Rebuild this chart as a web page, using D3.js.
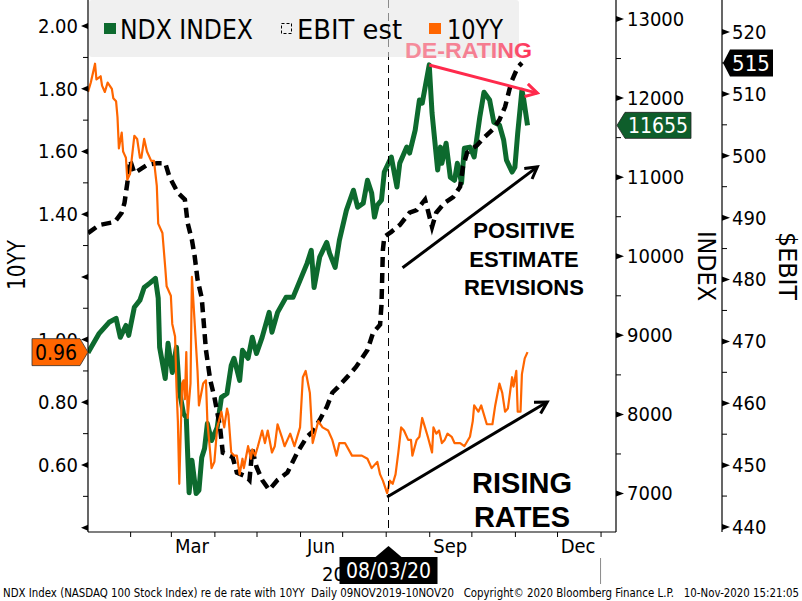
<!DOCTYPE html>
<html><head><meta charset="utf-8">
<script src="https://cdn.jsdelivr.net/npm/d3@7"></script>
<style>body{margin:0;background:#fff}svg{display:block}</style>
</head><body><svg id="c" width="802" height="601"></svg>
<script>
// ---------------- data ----------------
const ndxDates = ["2020-01-02","2020-01-10","2020-01-17","2020-01-22","2020-01-25","2020-01-29","2020-01-31","2020-02-04","2020-02-08","2020-02-11","2020-02-15","2020-02-19","2020-02-21","2020-02-22","2020-02-26","2020-02-28","2020-03-02","2020-03-05","2020-03-07","2020-03-10","2020-03-12","2020-03-14","2020-03-16","2020-03-19","2020-03-21","2020-03-23","2020-03-25","2020-03-27","2020-03-30","2020-04-03","2020-04-06","2020-04-10","2020-04-13","2020-04-15","2020-04-19","2020-04-21","2020-04-25","2020-04-28","2020-05-01","2020-05-05","2020-05-10","2020-05-12","2020-05-16","2020-05-22","2020-05-27","2020-06-01","2020-06-06","2020-06-09","2020-06-11","2020-06-15","2020-06-20","2020-06-22","2020-06-26","2020-06-29","2020-07-04","2020-07-09","2020-07-12","2020-07-16","2020-07-19","2020-07-22","2020-07-24","2020-07-26","2020-07-29","2020-07-31","2020-08-05","2020-08-09","2020-08-11","2020-08-16","2020-08-18","2020-08-22","2020-08-25","2020-08-27","2020-09-01","2020-09-03","2020-09-07","2020-09-09","2020-09-10","2020-09-13","2020-09-16","2020-09-19","2020-09-21","2020-09-24","2020-09-26","2020-09-30","2020-10-03","2020-10-07","2020-10-10","2020-10-14","2020-10-17","2020-10-21","2020-10-24","2020-10-26","2020-10-30","2020-11-01","2020-11-03","2020-11-06","2020-11-07","2020-11-10"];
const ndxValues = [8780,9025,9165,9215,8975,9125,9000,9355,9445,9605,9660,9720,9470,8850,8455,8900,8530,8850,8305,8010,7960,7010,7420,7000,7040,7455,7570,7885,7670,7835,8215,8265,8620,8710,8430,8810,8710,8975,8770,8975,9290,9040,9290,9480,9480,9695,9910,10075,9605,9990,10175,10040,9860,10200,10580,10835,10620,10670,10960,10800,10495,10645,10710,11065,11255,10875,11175,11380,11305,11595,11975,11935,12420,11810,11090,11380,11175,11430,11000,10960,11175,10925,11365,11380,11255,11760,12075,11975,11695,11660,11470,11215,11065,11125,11555,12100,12015,11655];

const ebitDates = ["2020-01-02","2020-01-10","2020-01-21","2020-01-26","2020-01-28","2020-01-30","2020-02-01","2020-02-04","2020-02-13","2020-02-20","2020-02-26","2020-02-29","2020-03-06","2020-03-11","2020-03-13","2020-03-16","2020-03-18","2020-03-20","2020-03-23","2020-03-26","2020-03-29","2020-04-01","2020-04-05","2020-04-07","2020-04-14","2020-04-17","2020-04-24","2020-04-26","2020-04-28","2020-05-01","2020-05-05","2020-05-10","2020-05-16","2020-05-23","2020-05-30","2020-06-06","2020-06-10","2020-06-15","2020-06-20","2020-06-24","2020-06-28","2020-07-04","2020-07-11","2020-07-19","2020-07-23","2020-07-28","2020-07-29","2020-07-30","2020-07-31","2020-08-05","2020-08-11","2020-08-18","2020-08-23","2020-08-29","2020-08-31","2020-09-03","2020-09-06","2020-09-12","2020-09-18","2020-09-23","2020-09-25","2020-09-28","2020-10-05","2020-10-10","2020-10-16","2020-10-21","2020-10-25","2020-10-28","2020-10-30","2020-11-03","2020-11-06"];
const ebitValues = [487.5,488.8,489.3,490.8,492.4,495.6,499.3,497.2,498.5,498.8,498.8,496.6,494.0,492.9,489.1,486.4,483.7,480.0,477.0,468.6,463.8,461.0,456.2,452.0,451.3,448.8,448.1,447.6,452.5,449.7,447.6,446.0,447.6,448.8,452.0,454.6,455.4,457.3,459.4,461.7,462.6,464.1,465.9,468.6,471.4,472.7,475.9,484.8,486.9,487.7,488.8,490.8,491.2,492.9,491.2,488.5,490.8,492.4,493.3,495.0,498.2,500.5,501.7,502.9,504.2,505.8,507.9,510.6,512.2,514.3,515.0];

const yldDates = ["2020-01-02","2020-01-04","2020-01-07","2020-01-08","2020-01-11","2020-01-12","2020-01-14","2020-01-16","2020-01-19","2020-01-20","2020-01-22","2020-01-23","2020-01-24","2020-01-26","2020-01-27","2020-01-28","2020-01-29","2020-01-30","2020-02-01","2020-02-03","2020-02-04","2020-02-06","2020-02-08","2020-02-09","2020-02-11","2020-02-13","2020-02-16","2020-02-18","2020-02-20","2020-02-21","2020-02-24","2020-02-26","2020-02-27","2020-03-01","2020-03-02","2020-03-04","2020-03-05","2020-03-06","2020-03-07","2020-03-09","2020-03-10","2020-03-11","2020-03-12","2020-03-13","2020-03-15","2020-03-16","2020-03-20","2020-03-21","2020-03-24","2020-03-26","2020-03-27","2020-03-30","2020-04-01","2020-04-03","2020-04-06","2020-04-08","2020-04-10","2020-04-11","2020-04-13","2020-04-15","2020-04-17","2020-04-19","2020-04-21","2020-04-22","2020-04-25","2020-04-27","2020-04-28","2020-04-30","2020-05-02","2020-05-05","2020-05-07","2020-05-09","2020-05-12","2020-05-14","2020-05-16","2020-05-19","2020-05-21","2020-05-25","2020-05-28","2020-06-01","2020-06-03","2020-06-05","2020-06-08","2020-06-10","2020-06-14","2020-06-17","2020-06-21","2020-06-24","2020-06-27","2020-06-29","2020-07-03","2020-07-08","2020-07-11","2020-07-15","2020-07-19","2020-07-22","2020-07-26","2020-07-28","2020-07-30","2020-08-02","2020-08-04","2020-08-06","2020-08-08","2020-08-10","2020-08-12","2020-08-14","2020-08-17","2020-08-19","2020-08-20","2020-08-23","2020-08-25","2020-08-27","2020-08-29","2020-08-31","2020-09-03","2020-09-04","2020-09-06","2020-09-08","2020-09-10","2020-09-12","2020-09-14","2020-09-17","2020-09-19","2020-09-23","2020-09-26","2020-09-30","2020-10-02","2020-10-03","2020-10-06","2020-10-08","2020-10-12","2020-10-16","2020-10-18","2020-10-21","2020-10-23","2020-10-25","2020-10-27","2020-10-30","2020-10-31","2020-11-02","2020-11-03","2020-11-05","2020-11-06","2020-11-08","2020-11-10"];
const yldValues = [1.79,1.82,1.88,1.83,1.84,1.81,1.79,1.82,1.80,1.77,1.76,1.71,1.61,1.66,1.60,1.59,1.58,1.51,1.53,1.61,1.65,1.64,1.58,1.58,1.64,1.60,1.57,1.57,1.49,1.37,1.34,1.23,1.17,1.14,1.05,1.01,0.85,0.74,0.54,0.86,0.87,0.81,0.96,0.75,0.86,1.20,0.90,0.79,0.86,0.87,0.74,0.59,0.61,0.72,0.77,0.72,0.78,0.76,0.64,0.63,0.63,0.57,0.62,0.59,0.66,0.62,0.65,0.63,0.66,0.71,0.67,0.71,0.64,0.66,0.73,0.69,0.66,0.70,0.66,0.72,0.88,0.90,0.83,0.67,0.74,0.72,0.71,0.68,0.63,0.67,0.67,0.63,0.63,0.63,0.62,0.59,0.61,0.57,0.55,0.51,0.55,0.54,0.57,0.64,0.72,0.71,0.68,0.68,0.63,0.68,0.69,0.75,0.72,0.69,0.64,0.72,0.70,0.71,0.67,0.68,0.70,0.69,0.67,0.67,0.66,0.69,0.74,0.79,0.77,0.79,0.73,0.73,0.79,0.86,0.83,0.77,0.78,0.88,0.85,0.90,0.77,0.77,0.89,0.94,0.96];

const leftTicks = [0.4,0.6,0.8,1.0,1.2,1.4,1.6,1.8,2.0];
const leftTickLabels = ["","0.60","0.80","1.00","","1.40","1.60","1.80","2.00"];
const leftMinor = [0.5,0.7,0.9,1.1,1.3,1.5,1.7,1.9];
const ndxTicks = [7000,8000,9000,10000,11000,12000,13000];
const ndxTickLabels = ["7000","8000","9000","10000","11000","12000","13000"];
const ndxMinor = [7500,8500,9500,10500,11500,12500];
const ebitTicks = [440,450,460,470,480,490,500,510,520];
const ebitTickLabels = ["440","450","460","470","480","490","500","510","520"];
const ebitMinor = [445,455,465,475,485,495,505,515];
const monthLabels = ["Mar","Jun","Sep","Dec"];
const monthLabelDates = ["2020-03-16","2020-06-16","2020-09-16","2020-12-16"];
const yearLabel = "2020", yearLabelDate = "2020-07-03";
const markerDate = "2020-08-03", markerLabel = "08/03/20";
const yearEndDate = "2021-01-01";
const seriesNames = ["NDX INDEX","EBIT est","10YY"];
const footer = "NDX Index (NASDAQ 100 Stock Index) re de rate with 10YY  Daily 09NOV2019-10NOV20   Copyright\u00A9 2020 Bloomberg Finance L.P.   10-Nov-2020 15:21:05";
// annotation arrows in data coordinates: [date, value] on given axis
const arrows = [
  {axis:"ndx", from:["2020-09-01",12418], to:["2020-11-17",12063], color:"#ff2a4c"},
  {axis:"ebit", from:["2020-08-13",481.9], to:["2020-11-17",498.2], color:"#000"},
  {axis:"yld", from:["2020-08-02",0.498], to:["2020-11-24",0.801], color:"#000"}
];

// ---------------- chart ----------------
const FONT = '"DejaVu Sans Condensed","DejaVu Sans",sans-serif';
const BOLD = '"Liberation Sans",Arial,sans-serif';
const GREEN = "#0d6a2e", ORANGE = "#ff6600";
const PL=88, PR=616, PT=0, PB=532, EBX=722;
const parse = d3.utcParse("%Y-%m-%d");

const x = d3.scaleUtc().domain([parse("2020-01-02"), parse("2021-01-12")]).range([PL, PR]);
const yL = d3.scaleLinear().domain([0.4, 2.0]).range([527.7, 26.1]);
const yN = d3.scaleLinear().domain([7000, 13000]).range([493.5, 19]);
const yE = d3.scaleLinear().domain([440, 520]).range([527, 32]);
const scaleOf = {ndx:yN, ebit:yE, yld:yL};

const ndx = ndxDates.map((d,i)=>({date:parse(d), v:ndxValues[i]}));
const ebit = ebitDates.map((d,i)=>({date:parse(d), v:ebitValues[i]}));
const yld = yldDates.map((d,i)=>({date:parse(d), v:yldValues[i]}));

const svg = d3.select("#c");
const defs = svg.append("defs");
defs.append("clipPath").attr("id","plot").append("rect")
  .attr("x",PL).attr("y",PT).attr("width",PR-PL).attr("height",PB-PT);
function marker(id,color){
  defs.append("marker").attr("id",id).attr("viewBox","0 0 16 16").attr("refX",13).attr("refY",8)
    .attr("markerWidth",16).attr("markerHeight",16).attr("markerUnits","userSpaceOnUse").attr("orient","auto")
    .append("path").attr("d","M1.5,1.5L13,8L1.5,14.5").attr("fill","none").attr("stroke",color)
    .attr("stroke-width",3).attr("stroke-linejoin","miter");
}
marker("arrRed","#ff2a4c"); marker("arrBlk","#000");
const grad = defs.append("linearGradient").attr("id","derate").attr("x1","0").attr("x2","1");
grad.append("stop").attr("offset","0").attr("stop-color","#f58d9c");
grad.append("stop").attr("offset","0.7").attr("stop-color","#f57a8e");
grad.append("stop").attr("offset","1").attr("stop-color","#ff2f55");

// series
const gPlot = svg.append("g").attr("clip-path","url(#plot)");
const mkLine = ys => d3.line().x(d=>x(d.date)).y(d=>ys(d.v));
gPlot.append("path").datum(ndx).attr("d",mkLine(yN)).attr("fill","none")
  .attr("stroke",GREEN).attr("stroke-width",5).attr("stroke-linejoin","round");
gPlot.append("path").datum(ebit).attr("d",mkLine(yE)).attr("fill","none")
  .attr("stroke","#000").attr("stroke-width",4.5).attr("stroke-dasharray","10,6");
gPlot.append("path").datum(yld).attr("d",mkLine(yL)).attr("fill","none")
  .attr("stroke",ORANGE).attr("stroke-width",2.2).attr("stroke-linejoin","round");

// marker vertical line
const mx = x(parse(markerDate));
svg.append("line").attr("x1",mx).attr("x2",mx).attr("y1",PT).attr("y2",PB)
  .attr("stroke","#000").attr("stroke-width",1).attr("stroke-dasharray","8,5");

// legend (semi-transparent so the marker line shows grey)
svg.append("rect").attr("x",PL+1).attr("y",0).attr("width",430).attr("height",57).attr("rx",3)
  .attr("fill","#e6e6e6").attr("fill-opacity",0.6);
const lg = svg.append("g");
lg.append("rect").attr("x",104).attr("y",23).attr("width",12).attr("height",11).attr("fill",GREEN);
lg.append("text").attr("x",120).attr("y",39).text(seriesNames[0]).attr("textLength",133).attr("lengthAdjust","spacingAndGlyphs");
lg.append("rect").attr("x",281.5).attr("y",23.5).attr("width",10).attr("height",10).attr("fill","none")
  .attr("stroke","#000").attr("stroke-width",1).attr("stroke-dasharray","3,2");
lg.append("text").attr("x",297).attr("y",39).text(seriesNames[1]).attr("textLength",105).attr("lengthAdjust","spacingAndGlyphs");
lg.append("rect").attr("x",429).attr("y",23).attr("width",12).attr("height",11).attr("fill",ORANGE);
lg.append("text").attr("x",447).attr("y",39).text(seriesNames[2]).attr("textLength",56).attr("lengthAdjust","spacingAndGlyphs");
lg.selectAll("text").attr("font-family",FONT).attr("font-size",27).attr("fill","#000");

// axes lines
const ax = svg.append("g").attr("stroke","#000").attr("stroke-width",1.2);
ax.append("line").attr("x1",PL).attr("x2",PL).attr("y1",0).attr("y2",PB);
ax.append("line").attr("x1",PR).attr("x2",PR).attr("y1",0).attr("y2",PB);
ax.append("line").attr("x1",EBX).attr("x2",EBX).attr("y1",0).attr("y2",PB);
ax.append("line").attr("x1",PL).attr("x2",PR).attr("y1",PB).attr("y2",PB);

function styleAxis(g){
  g.select(".domain").remove();
  g.attr("font-family",null).attr("font-size",null);
  g.selectAll("text").attr("font-family",FONT).attr("font-size",20).attr("fill","#000");
}
// left axis
const gL = svg.append("g").attr("transform",`translate(${PL},0)`)
  .call(d3.axisLeft(yL).tickValues(leftTicks).tickSize(0).tickPadding(10).tickFormat((d,i)=>leftTickLabels[i]));
styleAxis(gL);
gL.selectAll("path.tri").data(leftTicks).join("path").attr("class","tri")
  .attr("d",d=>`M0,${yL(d)-3}L-7,${yL(d)}L0,${yL(d)+3}Z`).attr("fill","#000");
gL.selectAll("line.mn").data(leftMinor).join("line").attr("class","mn")
  .attr("x1",-5).attr("x2",0).attr("y1",d=>yL(d)).attr("y2",d=>yL(d)).attr("stroke","#000");
// NDX axis
const gN = svg.append("g").attr("transform",`translate(${PR},0)`)
  .call(d3.axisRight(yN).tickValues(ndxTicks).tickSize(0).tickPadding(11).tickFormat((d,i)=>ndxTickLabels[i]));
styleAxis(gN);
gN.selectAll("path.tri").data(ndxTicks).join("path").attr("class","tri")
  .attr("d",d=>`M0,${yN(d)-3}L8,${yN(d)}L0,${yN(d)+3}Z`).attr("fill","#000");
gN.selectAll("line.mn").data(ndxMinor).join("line").attr("class","mn")
  .attr("x1",0).attr("x2",5).attr("y1",d=>yN(d)).attr("y2",d=>yN(d)).attr("stroke","#000");
// EBIT axis
const gE = svg.append("g").attr("transform",`translate(${EBX},0)`)
  .call(d3.axisRight(yE).tickValues(ebitTicks).tickSize(0).tickPadding(10).tickFormat((d,i)=>ebitTickLabels[i]));
styleAxis(gE);
gE.selectAll("path.tri").data(ebitTicks).join("path").attr("class","tri")
  .attr("d",d=>`M0,${yE(d)-3}L8,${yE(d)}L0,${yE(d)+3}Z`).attr("fill","#000");
gE.selectAll("line.mn").data(ebitMinor).join("line").attr("class","mn")
  .attr("x1",0).attr("x2",5).attr("y1",d=>yE(d)).attr("y2",d=>yE(d)).attr("stroke","#000");
// bottom axis
const monthStarts = d3.utcMonths(parse("2020-02-01"), parse("2021-01-02"));
const gB = svg.append("g").attr("transform",`translate(0,${PB})`)
  .call(d3.axisBottom(x).tickValues(monthStarts).tickSize(5).tickFormat(""));
gB.select(".domain").remove();
svg.append("g").selectAll("text").data(monthLabels).join("text")
  .attr("x",(d,i)=>x(parse(monthLabelDates[i]))).attr("y",553).attr("text-anchor","middle")
  .attr("font-family",FONT).attr("font-size",20).text(d=>d);
svg.append("text").attr("x",x(parse(yearLabelDate))).attr("y",581).attr("text-anchor","middle")
  .attr("font-family",FONT).attr("font-size",20).text(yearLabel);
const ye = x(parse(yearEndDate));
svg.append("line").attr("x1",ye).attr("x2",ye).attr("y1",558).attr("y2",584).attr("stroke","#8a8a8a");

// date tag under marker
const dt = svg.append("g").attr("transform",`translate(${mx},0)`);
dt.append("path").attr("d","M0,546L13,557L-13,557Z").attr("fill","#000");
dt.append("rect").attr("x",-49).attr("y",557).attr("width",98).attr("height",27).attr("fill","#000");
dt.append("text").attr("x",0).attr("y",578).attr("text-anchor","middle").attr("fill","#fff")
  .attr("font-family",FONT).attr("font-size",21).text(markerLabel);

// axis titles
svg.append("text").attr("transform","translate(25,265) rotate(-90)").attr("text-anchor","middle")
  .attr("font-family",FONT).attr("font-size",24).attr("textLength",50).attr("lengthAdjust","spacingAndGlyphs").text("10YY");
svg.append("text").attr("transform","translate(698,266) rotate(90)").attr("text-anchor","middle")
  .attr("font-family",FONT).attr("font-size",24).attr("textLength",70).attr("lengthAdjust","spacingAndGlyphs").text("INDEX");
svg.append("text").attr("transform","translate(779,266) rotate(90)").attr("text-anchor","middle")
  .attr("font-family",FONT).attr("font-size",24).attr("textLength",68).attr("lengthAdjust","spacingAndGlyphs").text("$EBIT");

// annotations
arrows.forEach(a=>{
  const s = scaleOf[a.axis];
  svg.append("line").attr("x1",x(parse(a.from[0]))).attr("y1",s(a.from[1]))
    .attr("x2",x(parse(a.to[0]))).attr("y2",s(a.to[1]))
    .attr("stroke",a.color).attr("stroke-width",3)
    .attr("marker-end",a.color==="#000"?"url(#arrBlk)":"url(#arrRed)");
});
svg.append("text").attr("x",405).attr("y",58).attr("font-family",BOLD).attr("font-weight","bold")
  .attr("font-size",22).attr("fill","url(#derate)").attr("textLength",127).attr("lengthAdjust","spacingAndGlyphs").text("DE-RATING");
const posLines = ["POSITIVE","ESTIMATE","REVISIONS"];
svg.append("g").selectAll("text").data(posLines).join("text")
  .attr("x",524).attr("y",(d,i)=>238+i*28.5).attr("text-anchor","middle")
  .attr("font-family",BOLD).attr("font-weight","bold").attr("font-size",22).text(d=>d);
const rateLines = ["RISING","RATES"];
svg.append("g").selectAll("text").data(rateLines).join("text")
  .attr("x",522).attr("y",(d,i)=>493+i*34).attr("text-anchor","middle")
  .attr("font-family",BOLD).attr("font-weight","bold").attr("font-size",29).text(d=>d);

// last-value tags
const lastY = yld[yld.length-1].v, lastN = ndx[ndx.length-1].v, lastE = ebit[ebit.length-1].v;
const vy = yL(lastY);
svg.append("path").attr("d",`M32,${vy-13.5}L80,${vy-13.5}L88,${vy}L80,${vy+13.5}L32,${vy+13.5}Z`)
  .attr("fill",ORANGE).attr("stroke","#333").attr("stroke-width",0.8);
svg.append("text").attr("x",56).attr("y",vy).attr("dy","0.36em").attr("text-anchor","middle")
  .attr("font-family",FONT).attr("font-size",21).text(d3.format(".2f")(lastY));
const vn = yN(lastN);
svg.append("path").attr("d",`M617,${vn}L625,${vn-13}L691,${vn-13}L691,${vn+13}L625,${vn+13}Z`)
  .attr("fill","#0e5e2b").attr("stroke","#222").attr("stroke-width",0.8);
svg.append("text").attr("x",658).attr("y",vn).attr("dy","0.36em").attr("text-anchor","middle").attr("fill","#fff")
  .attr("font-family",FONT).attr("font-size",21).text(d3.format("d")(lastN));
const ve = yE(lastE);
svg.append("path").attr("d",`M723,${ve}L730,${ve-13.5}L773,${ve-13.5}L773,${ve+13.5}L730,${ve+13.5}Z`)
  .attr("fill","#000");
svg.append("text").attr("x",751).attr("y",ve).attr("dy","0.36em").attr("text-anchor","middle").attr("fill","#fff")
  .attr("font-family",FONT).attr("font-size",22).text(d3.format("d")(lastE));

// footer
svg.append("text").attr("x",3).attr("y",597).attr("font-family",FONT).attr("font-size",11.5)
  .attr("textLength",796).attr("lengthAdjust","spacingAndGlyphs").style("white-space","pre").text(footer);
</script>
</body></html>
